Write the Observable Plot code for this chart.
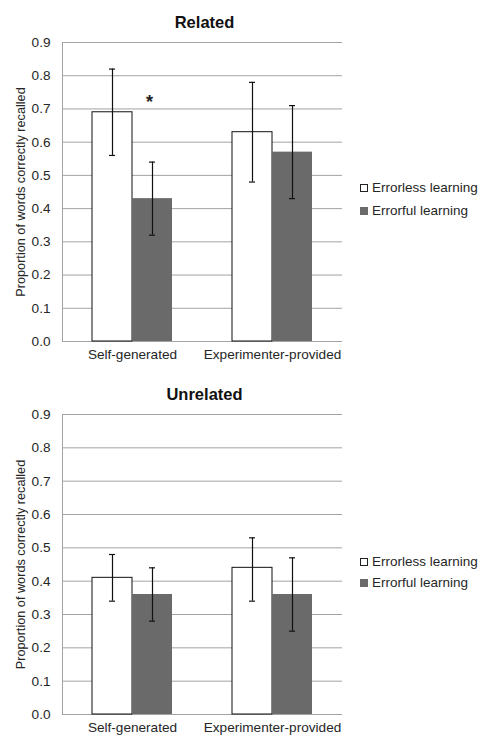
<!DOCTYPE html>
<html><head><meta charset="utf-8">
<script src="https://cdn.jsdelivr.net/npm/d3@7"></script>
<script src="https://cdn.jsdelivr.net/npm/@observablehq/plot@0.6"></script>
<style>
body{margin:0;background:#fff;font-family:"Liberation Sans",Arial,sans-serif;}
.panel{position:relative;width:480px;}
.legend{position:absolute;left:360px;font-size:13.5px;color:#262626;}
.row{display:flex;align-items:center;white-space:nowrap;}
.sw{width:8px;height:8px;margin-right:4px;box-sizing:border-box;}
</style></head><body><div id="chart"></div>
<script>
// ---- data ----
const categories = ["Self-generated", "Experimenter-provided"];
const series = ["Errorless learning", "Errorful learning"];
const panelTitles = ["Related", "Unrelated"];
const yTicks = [0, 0.1, 0.2, 0.3, 0.4, 0.5, 0.6, 0.7, 0.8, 0.9];
const yLabel = "Proportion of words correctly recalled";

const relatedErrorless   = [0.69, 0.63];
const relatedErrorlessLo = [0.56, 0.48];
const relatedErrorlessHi = [0.82, 0.78];
const relatedErrorful    = [0.43, 0.57];
const relatedErrorfulLo  = [0.32, 0.43];
const relatedErrorfulHi  = [0.54, 0.71];

const unrelatedErrorless   = [0.41, 0.44];
const unrelatedErrorlessLo = [0.34, 0.34];
const unrelatedErrorlessHi = [0.48, 0.53];
const unrelatedErrorful    = [0.36, 0.36];
const unrelatedErrorfulLo  = [0.28, 0.25];
const unrelatedErrorfulHi  = [0.44, 0.47];

const annotations = [{panel: "Related", category: "Self-generated", y: 0.735, label: "*"}];

// ---- build ----
const seriesColors = {"Errorless learning": "#ffffff", "Errorful learning": "#6a6a6a"};
const seriesStroke = {"Errorless learning": "#111", "Errorful learning": "none"};

function rows(means, lo, hi, s) {
  return categories.map((c, i) => ({category: c, series: s, value: means[i], lo: lo[i], hi: hi[i]}));
}
const panels = [
  {title: panelTitles[0], marginTop: 42, marginBottom: 27, height: 368, legendTop: 176, rowH: 23,
   data: [...rows(relatedErrorless, relatedErrorlessLo, relatedErrorlessHi, series[0]),
          ...rows(relatedErrorful, relatedErrorfulLo, relatedErrorfulHi, series[1])]},
  {title: panelTitles[1], marginTop: 46, marginBottom: 23, height: 369, legendTop: 183, rowH: 21,
   data: [...rows(unrelatedErrorless, unrelatedErrorlessLo, unrelatedErrorlessHi, series[0]),
          ...rows(unrelatedErrorful, unrelatedErrorfulLo, unrelatedErrorfulHi, series[1])]}
];

// band is 140px wide; bars occupy 30..70 and 70..110 within it
const geom = {
  "Errorless learning": {insetLeft: 30, insetRight: 70, dx: -20, capL: 47, capR: 87},
  "Errorful learning":  {insetLeft: 70, insetRight: 30, dx: 20, capL: 87, capR: 47}
};

const root = document.getElementById("chart");
for (const p of panels) {
  const marks = [
    Plot.ruleY(yTicks, {stroke: "#a3a3a3", strokeWidth: 1}),
  ];
  for (const s of series) {
    const d = p.data.filter(r => r.series === s);
    const g = geom[s];
    marks.push(Plot.barY(d, {x: "category", y: "value", fill: seriesColors[s], stroke: seriesStroke[s], strokeWidth: 1,
      insetLeft: g.insetLeft, insetRight: g.insetRight}));
  }
  marks.push(Plot.ruleX([categories[0]], {x: d => d, y1: 0, y2: 0.9, dx: -70, stroke: "#a3a3a3"}));
  for (const s of series) {
    const d = p.data.filter(r => r.series === s);
    const g = geom[s];
    marks.push(Plot.ruleX(d, {x: "category", y1: "lo", y2: "hi", dx: g.dx, stroke: "#111", strokeWidth: 1.2}));
    marks.push(Plot.tickY(d, {x: "category", y: "lo", insetLeft: g.capL, insetRight: g.capR, stroke: "#111", strokeWidth: 1.2}));
    marks.push(Plot.tickY(d, {x: "category", y: "hi", insetLeft: g.capL, insetRight: g.capR, stroke: "#111", strokeWidth: 1.2}));
  }
  marks.push(Plot.text(annotations.filter(a => a.panel === p.title),
    {x: "category", y: "y", text: "label", dx: 17, dy: 5, fontSize: 18, fontWeight: "bold", fill: "#222"}));
  marks.push(Plot.text([p.title], {frameAnchor: "top", dy: -26, dx: 2, fontSize: 16.5, fontWeight: "bold", fill: "#111"}));
  marks.push(Plot.text([yLabel], {frameAnchor: "left", textAnchor: "middle", dx: -42, rotate: -90, fontSize: 12.7, fill: "#262626"}));
  marks.push(Plot.axisY({ticks: yTicks, tickFormat: d => d.toFixed(1), tickSize: 0, tickPadding: 12, label: null}));
  marks.push(Plot.axisX({tickSize: 0, tickPadding: 8, label: null}));

  const svg = Plot.plot({
    width: 480, height: p.height,
    marginLeft: 62, marginRight: 138, marginTop: p.marginTop, marginBottom: p.marginBottom,
    style: {fontFamily: "Liberation Sans, Arial, sans-serif", fontSize: "13.6px", color: "#262626", background: "#fff"},
    x: {domain: categories, padding: 0, axis: null},
    y: {domain: [0, 0.9], axis: null},
    marks
  });
  const div = document.createElement("div");
  div.className = "panel";
  div.appendChild(svg);
  const leg = document.createElement("div");
  leg.className = "legend";
  leg.style.top = p.legendTop + "px";
  series.forEach((s, i) => {
    const r = document.createElement("div");
    r.className = "row";
    r.style.height = p.rowH + "px";
    const sw = document.createElement("span");
    sw.className = "sw";
    sw.style.background = seriesColors[s];
    sw.style.border = i === 0 ? "1px solid #222" : "none";
    r.appendChild(sw);
    r.appendChild(document.createTextNode(s));
    leg.appendChild(r);
  });
  div.appendChild(leg);
  root.appendChild(div);
}
</script></body></html>
